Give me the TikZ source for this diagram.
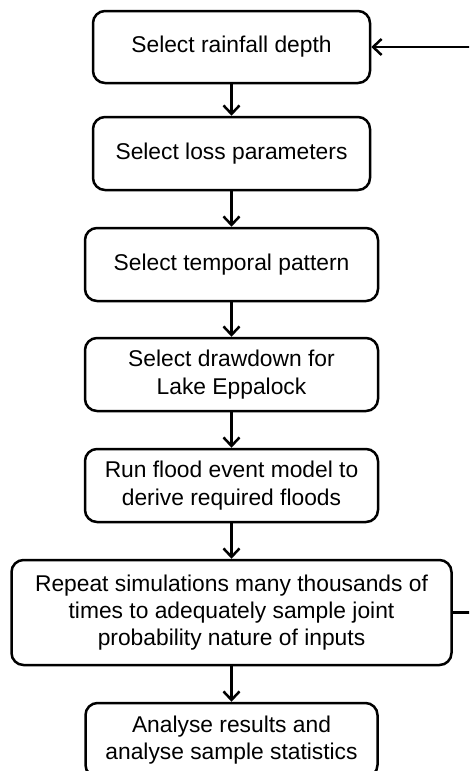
\documentclass[tikz,border=0pt]{standalone}
\usepackage{fontspec}
\setmainfont{Liberation Sans}
\usetikzlibrary{arrows.meta}
\begin{document}
\begin{tikzpicture}[x=1pt,y=-1pt,
  box/.style={draw, line width=2.5pt, rounded corners=12pt, align=center,
    inner sep=0pt, font=\fontsize{22.8}{27.4}\selectfont},
  conn/.style={line width=2.5pt, -{Straight Barb[length=8.5pt,width=16pt]}}]
\useasboundingbox (0,0) rectangle (469,771);
\clip (0,0) rectangle (469,771);
\node[box, minimum width=277pt, minimum height=72pt] (b1) at (231.5,47) {Select rainfall depth};
\node[box, minimum width=277pt, minimum height=73pt] (b2) at (231.5,153.5) {Select loss parameters};
\node[box, minimum width=293pt, minimum height=73pt] (b3) at (231.5,264.5) {Select temporal pattern};
\node[box, minimum width=293pt, minimum height=73pt] (b4) at (231.5,374.5) {Select drawdown for\\Lake Eppalock};
\node[box, minimum width=293pt, minimum height=73pt] (b5) at (231.5,485.5) {Run flood event model to\\derive required floods};
\node[box, minimum width=440pt, minimum height=105pt] (b6) at (231.5,612.5) {Repeat simulations many thousands of\\times to adequately sample joint\\probability nature of inputs};
\node[box, minimum width=292pt, minimum height=74pt] (b7) at (231.5,740) {Analyse results and\\analyse sample statistics};
\draw[conn] (b1) -- (b2);
\draw[conn] (b2) -- (b3);
\draw[conn] (b3) -- (b4);
\draw[conn] (b4) -- (b5);
\draw[conn] (b5) -- (b6);
\draw[conn] (b6) -- (b7);
\coordinate (loop) at (500,612.5);
\draw[conn] (b6.east) -- (loop) |- (b1.east);
\end{tikzpicture}
\end{document}
